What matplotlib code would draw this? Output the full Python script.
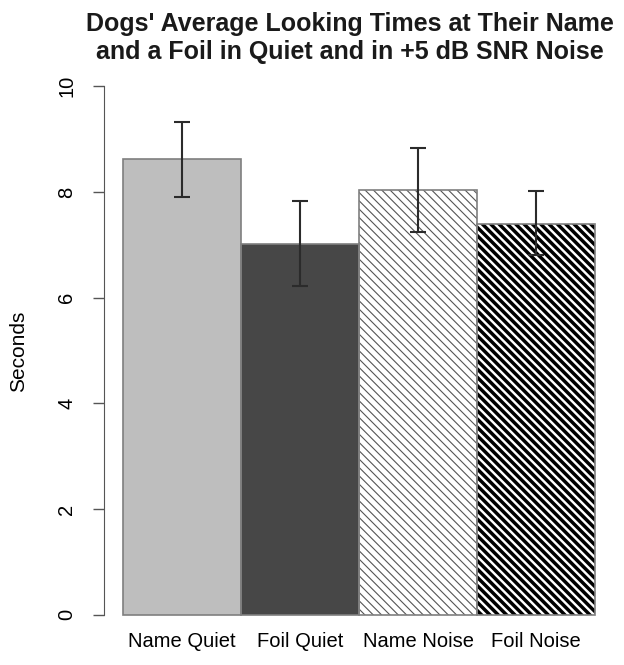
import matplotlib
matplotlib.use("Agg")
import matplotlib.pyplot as plt

conditions = ["Name Quiet", "Foil Quiet", "Name Noise", "Foil Noise"]
means = [8.62, 7.02, 8.04, 7.40]
upper = [9.32, 7.82, 8.83, 8.01]
lower = [7.90, 6.22, 7.24, 6.81]

plt.rcParams['font.family'] = ['Liberation Sans', 'DejaVu Sans']

fig = plt.figure(figsize=(6.24, 6.65), dpi=100)
ax = fig.add_axes([0.1667, 0.0436, 0.8173, 0.8586])

xs = [i + 0.5 for i in range(len(conditions))]
fills = ['#bebebe', '#474747', 'white', 'white']
hatches = [None, None, '\\\\\\\\', '\\\\\\\\']
hatch_cols = ['#808080', '#808080', '#555555', 'black']
hatch_lw = [1, 1, 0.8, 2.5]

for i in range(len(conditions)):
    b = ax.bar(xs[i], means[i], width=1.0, color=fills[i], edgecolor=hatch_cols[i],
               hatch=hatches[i], linewidth=0)
    if hatches[i] is not None:
        for p in b:
            if hasattr(p, 'set_hatch_linewidth'):
                p.set_hatch_linewidth(hatch_lw[i])
# outlines
ax.bar(xs, means, width=1.0, fill=False, edgecolor='#7f7f7f', linewidth=1.2)

# error bars
yerr = [[m - l for m, l in zip(means, lower)], [u - m for m, u in zip(means, upper)]]
ax.errorbar(xs, means, yerr=yerr, fmt='none', ecolor='#2b2b2b', elinewidth=1.5,
            capsize=6, capthick=1.5)

ax.set_xlim(-0.16, 4.16)
ax.set_ylim(-0.4, 10.4)

for s in ['top', 'right', 'bottom']:
    ax.spines[s].set_visible(False)
ax.spines['left'].set_bounds(0, 10)
ax.spines['left'].set_color('#555555')
ax.set_yticks([0, 2, 4, 6, 8, 10])
ax.tick_params(axis='y', length=8, width=1, color='#555555', labelsize=14.5, pad=12)
for t in ax.get_yticklabels():
    t.set_rotation(90)
    t.set_va('center')
ax.set_xticks([])
for x, c in zip(xs, conditions):
    ax.text(x, -0.5, c, ha='center', va='center', fontsize=14.5)

fig.text(0.029, 0.472, 'Seconds', rotation=90, ha='center', va='center', fontsize=15)
fig.text(0.561, 0.943, "Dogs' Average Looking Times at Their Name\nand a Foil in Quiet and in +5 dB SNR Noise",
         ha='center', va='center', fontsize=18, fontweight='bold', linespacing=1.17,
         color='#1a1a1a')

fig.savefig('out.png', dpi=100)
